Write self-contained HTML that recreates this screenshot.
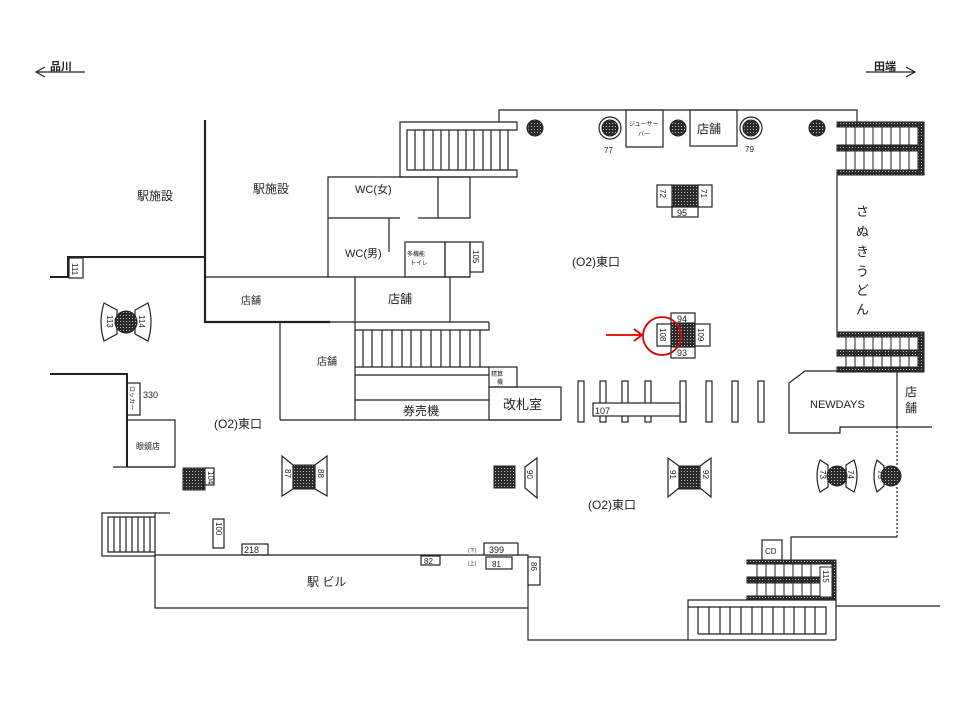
<!DOCTYPE html>
<html><head><meta charset="utf-8"><style>
html,body{margin:0;padding:0;background:#fff;}
svg{display:block;}
text{font-family:"Liberation Sans","Noto Sans CJK JP",sans-serif;fill:#222;}
</style></head><body>
<svg width="960" height="720" viewBox="0 0 960 720" xmlns="http://www.w3.org/2000/svg">
<defs>
<pattern id="h" width="3" height="3" patternUnits="userSpaceOnUse"><rect width="3" height="3" fill="#2a2a2a"/><rect width="1" height="1" fill="#bbb"/></pattern>
</defs>
<g stroke="#222" stroke-width="1.2" fill="none">
<line x1="37" y1="72" x2="85" y2="72"/><polyline points="45,67 36,72 45,77"/>
<line x1="866" y1="72" x2="914" y2="72"/><polyline points="906,67 915,72 906,77"/>
<line x1="205" y1="120" x2="205" y2="323" stroke-width="2.2"/>
<line x1="205" y1="322" x2="330" y2="322" stroke-width="2.2"/>
<polyline points="50,277 68,277 68,257 205,257" stroke-width="2"/>
<polyline points="50,374 127,374 127,467" stroke-width="2"/>
<line x1="113" y1="467" x2="175" y2="467"/>
<line x1="205" y1="277" x2="470" y2="277"/>
<polyline points="328,277 328,177 470,177 470,218 418,218"/>
<line x1="328" y1="218" x2="400" y2="218"/>
<line x1="438" y1="177" x2="438" y2="218"/>
<line x1="389" y1="218" x2="389" y2="252"/>
<rect x="405" y="242" width="40" height="35"/><rect x="445" y="242" width="25" height="35"/>
<rect x="470" y="242" width="13" height="30"/>
<polyline points="400,177 400,122 517,122 517,130 407,130 407,170 517,170 517,177 400,177"/>
<g>
<line x1="415" y1="130" x2="415" y2="170"/><line x1="424" y1="130" x2="424" y2="170"/><line x1="433" y1="130" x2="433" y2="170"/><line x1="441" y1="130" x2="441" y2="170"/><line x1="449" y1="130" x2="449" y2="170"/><line x1="458" y1="130" x2="458" y2="170"/><line x1="466" y1="130" x2="466" y2="170"/><line x1="474" y1="130" x2="474" y2="170"/><line x1="483" y1="130" x2="483" y2="170"/><line x1="491" y1="130" x2="491" y2="170"/><line x1="500" y1="130" x2="500" y2="170"/><line x1="508" y1="130" x2="508" y2="170"/>
</g>
<polyline points="499,122 499,110 857,110 857,122"/>
<line x1="355" y1="277" x2="355" y2="420"/>
<line x1="450" y1="277" x2="450" y2="322"/>
<line x1="280" y1="322" x2="489" y2="322"/>
<line x1="280" y1="322" x2="280" y2="420"/>
<line x1="280" y1="420" x2="561" y2="420"/>
<polyline points="355,330 489,330 489,322"/>
<line x1="355" y1="367" x2="489" y2="367"/>
<line x1="363" y1="330" x2="363" y2="367"/><line x1="372" y1="330" x2="372" y2="367"/><line x1="382" y1="330" x2="382" y2="367"/><line x1="392" y1="330" x2="392" y2="367"/><line x1="402" y1="330" x2="402" y2="367"/><line x1="411" y1="330" x2="411" y2="367"/><line x1="421" y1="330" x2="421" y2="367"/><line x1="431" y1="330" x2="431" y2="367"/><line x1="441" y1="330" x2="441" y2="367"/><line x1="450" y1="330" x2="450" y2="367"/><line x1="460" y1="330" x2="460" y2="367"/><line x1="470" y1="330" x2="470" y2="367"/><line x1="480" y1="330" x2="480" y2="367"/>
<line x1="355" y1="375" x2="489" y2="375"/>
<line x1="355" y1="400" x2="489" y2="400"/>
<rect x="489" y="367" width="28" height="20"/>
<rect x="489" y="387" width="72" height="33"/>
<rect x="578" y="381" width="6" height="41"/><rect x="600" y="381" width="6" height="41"/><rect x="622" y="381" width="6" height="41"/><rect x="645" y="381" width="6" height="41"/><rect x="680" y="381" width="6" height="41"/><rect x="706" y="381" width="6" height="41"/><rect x="732" y="381" width="6" height="41"/><rect x="758" y="381" width="6" height="41"/>
<rect x="593" y="403" width="87" height="13" fill="#fff"/>
<circle cx="610" cy="128" r="11"/><circle cx="751" cy="128" r="11"/>
<rect x="626" y="110" width="37" height="37"/><rect x="690" y="110" width="47" height="36"/>
<line x1="837" y1="175" x2="837" y2="332"/>
<polyline points="805,371 789,383 789,433 840,433 840,427 932,427"/>
<line x1="805" y1="371" x2="897" y2="371"/>
<line x1="897" y1="371" x2="897" y2="427"/>
<line x1="897" y1="427" x2="897" y2="537" stroke-dasharray="2,2"/>
<rect x="69" y="258" width="14" height="20"/>
<rect x="127" y="383" width="13" height="32"/>
<rect x="127" y="420" width="48" height="47"/>
<rect x="205" y="468" width="9" height="17"/>
<path d="M117,310 L104,303 Q98,322 104,341 L117,334 Z"/><path d="M135,310 L148,303 Q154,322 148,341 L135,334 Z"/>
<path d="M828,465 L820,460 Q814,476 820,492 L828,487 Z"/><path d="M846,465 L854,460 Q860,476 854,492 L846,487 Z"/>
<path d="M884,466 L877,460 Q871,476 877,492 L884,486 Z"/>
<path d="M293,465 L282,456 L282,496 L293,489 Z"/><path d="M315,465 L327,456 L327,496 L315,489 Z"/>
<path d="M525,467 L537,458 L537,498 L525,488 Z"/>
<path d="M679,466 L668,458 L668,497 L679,488 Z"/><path d="M700,466 L711,458 L711,497 L700,488 Z"/>
<rect x="657" y="185" width="15" height="22"/><rect x="698" y="185" width="14" height="22"/><rect x="672" y="207" width="26" height="10"/>
<rect x="671" y="313" width="24" height="10"/><rect x="657" y="324" width="14" height="22"/><rect x="695" y="324" width="15" height="22"/><rect x="671" y="347" width="24" height="11"/>
<rect x="102" y="513" width="53" height="43"/>
<polyline points="155,517 108,517 108,552 155,552"/>
<line x1="155" y1="513" x2="170" y2="513"/>
<line x1="114" y1="517" x2="114" y2="552"/><line x1="120" y1="517" x2="120" y2="552"/><line x1="126" y1="517" x2="126" y2="552"/><line x1="132" y1="517" x2="132" y2="552"/><line x1="138" y1="517" x2="138" y2="552"/><line x1="144" y1="517" x2="144" y2="552"/><line x1="150" y1="517" x2="150" y2="552"/>
<rect x="213" y="519" width="11" height="29"/>
<rect x="242" y="544" width="26" height="11"/>
<polyline points="155,555 528,555 528,640 836,640"/>
<polyline points="155,555 155,608 528,608"/>
<rect x="421" y="556" width="19" height="9"/>
<rect x="484" y="543" width="34" height="12" fill="#fff"/>
<rect x="486" y="557" width="26" height="12"/>
<rect x="528" y="557" width="12" height="28" fill="#fff"/>
<polyline points="791,560 791,537 897,537"/>
<rect x="762" y="540" width="20" height="20"/>
<line x1="836" y1="606" x2="940" y2="606"/>
<polyline points="688,640 688,600 836,600 836,640"/>
<polyline points="688,607 826,607 826,634 698,634"/>
<line x1="698" y1="607" x2="698" y2="634"/><line x1="709" y1="607" x2="709" y2="634"/><line x1="720" y1="607" x2="720" y2="634"/><line x1="730" y1="607" x2="730" y2="634"/><line x1="741" y1="607" x2="741" y2="634"/><line x1="752" y1="607" x2="752" y2="634"/><line x1="762" y1="607" x2="762" y2="634"/><line x1="773" y1="607" x2="773" y2="634"/><line x1="784" y1="607" x2="784" y2="634"/><line x1="794" y1="607" x2="794" y2="634"/><line x1="805" y1="607" x2="805" y2="634"/><line x1="815" y1="607" x2="815" y2="634"/>
</g>
<g stroke="#222" stroke-width="1">
<g fill="url(#h)">
<rect x="837" y="122" width="87" height="5"/><rect x="837" y="145" width="87" height="6"/><rect x="837" y="170" width="87" height="5"/><rect x="918" y="122" width="6" height="53"/>
<rect x="837" y="332" width="87" height="5"/><rect x="837" y="350" width="87" height="6"/><rect x="837" y="367" width="87" height="5"/><rect x="918" y="332" width="6" height="40"/>
<rect x="747" y="560" width="89" height="4"/><rect x="747" y="577" width="89" height="6"/><rect x="747" y="596" width="89" height="4"/><rect x="832" y="560" width="4" height="40"/>
</g>
<g fill="none">
<line x1="846" y1="127" x2="846" y2="170"/><line x1="855" y1="127" x2="855" y2="170"/><line x1="864" y1="127" x2="864" y2="170"/><line x1="873" y1="127" x2="873" y2="170"/><line x1="882" y1="127" x2="882" y2="170"/><line x1="891" y1="127" x2="891" y2="170"/><line x1="900" y1="127" x2="900" y2="170"/><line x1="909" y1="127" x2="909" y2="170"/>
<line x1="846" y1="337" x2="846" y2="367"/><line x1="855" y1="337" x2="855" y2="367"/><line x1="864" y1="337" x2="864" y2="367"/><line x1="873" y1="337" x2="873" y2="367"/><line x1="882" y1="337" x2="882" y2="367"/><line x1="891" y1="337" x2="891" y2="367"/><line x1="900" y1="337" x2="900" y2="367"/><line x1="909" y1="337" x2="909" y2="367"/>
<line x1="757" y1="564" x2="757" y2="596"/><line x1="766" y1="564" x2="766" y2="596"/><line x1="775" y1="564" x2="775" y2="596"/><line x1="784" y1="564" x2="784" y2="596"/><line x1="793" y1="564" x2="793" y2="596"/><line x1="802" y1="564" x2="802" y2="596"/><line x1="811" y1="564" x2="811" y2="596"/>
</g>
<rect x="820" y="567" width="12" height="30" fill="#fff"/>
<g fill="url(#h)">
<circle cx="535" cy="128" r="8"/><circle cx="610" cy="128" r="8"/><circle cx="678" cy="128" r="8"/><circle cx="751" cy="128" r="8"/><circle cx="817" cy="128" r="8"/>
<rect x="672" y="185" width="26" height="22"/>
<rect x="671" y="323" width="24" height="24"/>
<circle cx="126" cy="322" r="11"/><circle cx="837" cy="476" r="10"/><circle cx="891" cy="476" r="10"/>
<rect x="183" y="468" width="22" height="22"/>
<rect x="293" y="465" width="22" height="24"/>
<rect x="494" y="466" width="21" height="22"/>
<rect x="679" y="466" width="21" height="23"/>
</g>
</g>
<circle cx="662" cy="336" r="19" fill="none" stroke="#d00" stroke-width="1.8"/>
<line x1="606" y1="335" x2="642" y2="335" stroke="#d00" stroke-width="1.8"/>
<polyline points="634,329 642,335 634,341" fill="none" stroke="#d00" stroke-width="1.8"/>
<g font-size="11">
<text x="50" y="70" font-weight="bold">品川</text>
<text x="874" y="70" font-weight="bold">田端</text>
<text x="137" y="200" font-size="12">駅施設</text>
<text x="253" y="193" font-size="12">駅施設</text>
<text x="355" y="193" font-size="11">WC(女)</text>
<text x="345" y="257" font-size="11">WC(男)</text>
<text x="407" y="256" font-size="6">多機能</text>
<text x="410" y="265" font-size="6">トイレ</text>
<text x="241" y="304" font-size="10">店舗</text>
<text x="388" y="303" font-size="12">店舗</text>
<text x="317" y="365" font-size="10">店舗</text>
<text x="491" y="376" font-size="6">精算</text>
<text x="497" y="384" font-size="6">機</text>
<text x="403" y="415" font-size="12">券売機</text>
<text x="503" y="409" font-size="13">改札室</text>
<text x="572" y="266" font-size="12">(O2)東口</text>
<text x="214" y="428" font-size="12">(O2)東口</text>
<text x="588" y="509" font-size="12">(O2)東口</text>
<text x="697" y="133" font-size="12">店舗</text>
<text x="629" y="126" font-size="6">ジューサー</text>
<text x="638" y="136" font-size="6">バー</text>
<text x="604" y="153" font-size="8">77</text>
<text x="745" y="152" font-size="8">79</text>
<text x="677" y="216" font-size="9">95</text>
<text x="677" y="322" font-size="9">94</text>
<text x="677" y="356" font-size="9">93</text>
<text x="595" y="414" font-size="9">107</text>
<text x="810" y="408" font-size="11">NEWDAYS</text>
<text x="905" y="396" font-size="12">店</text>
<text x="905" y="412" font-size="12">舗</text>
<g font-size="13"><text x="856" y="216">さ</text><text x="856" y="236">ぬ</text><text x="856" y="256">き</text><text x="856" y="276">う</text><text x="856" y="295">ど</text><text x="856" y="314">ん</text></g>
<text x="143" y="398" font-size="9">330</text>
<text x="136" y="449" font-size="8">眼鏡店</text>
<text x="244" y="553" font-size="9">218</text>
<text x="424" y="564" font-size="8">82</text>
<text x="489" y="553" font-size="9">399</text>
<text x="492" y="567" font-size="8">81</text>
<text x="468" y="552" font-size="5">(下)</text>
<text x="468" y="565" font-size="5">(上)</text>
<text x="765" y="554" font-size="8">CD</text>
<text x="307" y="586" font-size="12">駅 ビル</text>
</g>
<g font-size="8">
<text transform="translate(72,263) rotate(90)">111</text>
<text transform="translate(473,250) rotate(90)">105</text>
<text transform="translate(130,386) rotate(90)" font-size="6">ロッカー</text>
<text transform="translate(208,471) rotate(90)">104</text>
<text transform="translate(216,522) rotate(90)">100</text>
<text transform="translate(531,562) rotate(90)">86</text>
<text transform="translate(823,570) rotate(90)">115</text>
<text transform="translate(660,328) rotate(90)">108</text>
<text transform="translate(698,328) rotate(90)">109</text>
<text transform="translate(660,189) rotate(90)">72</text>
<text transform="translate(701,189) rotate(90)">71</text>
<text transform="translate(107,315) rotate(90)">113</text>
<text transform="translate(139,315) rotate(90)">114</text>
<text transform="translate(285,469) rotate(90)">87</text>
<text transform="translate(318,469) rotate(90)">88</text>
<text transform="translate(527,470) rotate(90)">90</text>
<text transform="translate(670,470) rotate(90)">91</text>
<text transform="translate(703,470) rotate(90)">92</text>
<text transform="translate(820,470) rotate(90)">73</text>
<text transform="translate(848,470) rotate(90)">74</text>
<text transform="translate(878,470) rotate(90)">75</text>
</g>
</svg>
</body></html>
